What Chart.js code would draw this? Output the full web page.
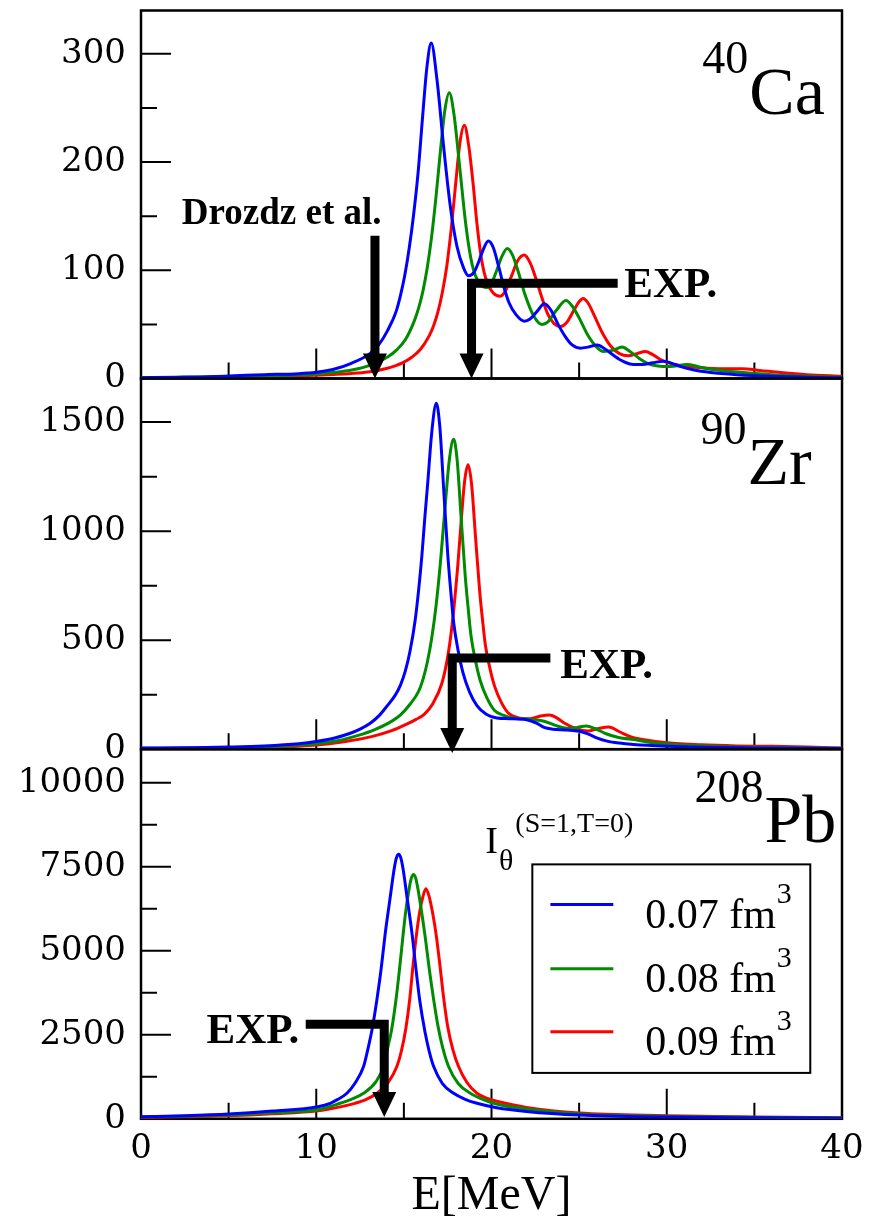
<!DOCTYPE html>
<html>
<head>
<meta charset="utf-8">
<title>I_theta (S=1,T=0)</title>
<script src="https://cdn.jsdelivr.net/npm/chart.js@4.4.1/dist/chart.umd.min.js"></script>
<style>
  body { margin: 0; background: #fff; }
  #wrap { position: relative; width: 876px; height: 1228px; }
  #wrap canvas { position: absolute; left: 0; top: 0; }
</style>
</head>
<body>
<div id="wrap">
  <canvas id="ca" width="876" height="1228"></canvas>
  <canvas id="zr" width="876" height="1228"></canvas>
  <canvas id="pb" width="876" height="1228"></canvas>
</div>
<script>
// series labels (density), one colour each
const densities = ['0.07 fm', '0.08 fm', '0.09 fm'];
const xTicks = [0, 10, 20, 30, 40];
const caTicks = [0, 100, 200, 300];
const zrTicks = [0, 500, 1000, 1500];
const pbTicks = [0, 2500, 5000, 7500, 10000];

// 40Ca
const caE07 = [0, 2, 3.4, 5, 7, 9, 10, 11, 12, 13.06, 13.56, 14.06, 14.56, 14.81, 15.06, 15.31, 15.56, 15.81, 16.06, 16.31, 16.56, 16.89, 17.27, 17.65, 18.03, 18.41, 18.68, 19.0, 19.25, 19.5, 19.82, 20.1, 20.4, 20.7, 21.0, 21.4, 21.87, 22.2, 22.6, 23.01, 23.4, 23.8, 24.2, 24.6, 25.07, 25.5, 26.04, 26.5, 27.0, 27.5, 28.09, 28.6, 29.2, 29.81, 30.3, 30.8, 31.5, 32.5, 34, 36, 38, 40];
const caI07 = [0.8, 1.2, 1.5, 2.3, 3.5, 4.5, 5.8, 8.5, 14, 23, 31, 44, 62, 77, 96, 121, 152, 190, 240, 287, 310, 276, 214, 159, 122, 102, 95, 98, 107, 118, 127, 121, 104, 85, 70, 59, 53, 55, 62, 69, 63, 50, 39, 31, 28, 29, 31, 27, 21, 16, 13, 13, 14.5, 16, 14, 11, 8, 5.5, 3.5, 2, 1.2, 0.6];
const caE08 = [0, 2, 5, 8, 10, 11, 12.09, 13.09, 14.09, 14.59, 15.09, 15.59, 15.84, 16.09, 16.34, 16.59, 16.84, 17.09, 17.34, 17.59, 17.85, 18.2, 18.55, 18.9, 19.3, 19.74, 20.0, 20.3, 20.6, 20.9, 21.2, 21.5, 21.9, 22.4, 22.88, 23.2, 23.7, 24.25, 24.6, 25.0, 25.5, 26.0, 26.38, 26.9, 27.45, 27.9, 28.4, 28.9, 29.5, 30.2, 31.16, 31.8, 32.5, 34, 36, 38, 40];
const caI08 = [0.6, 0.9, 1.7, 2.8, 4.2, 5.5, 8, 12.4, 20, 26.4, 36, 53, 65, 81, 103, 132, 169, 211, 248, 264, 245, 193, 140, 105, 88, 84, 88, 100, 113, 120, 114, 100, 78, 58, 50, 52, 63, 72, 67, 56, 40, 29, 25, 26, 29, 25, 19, 14, 11.5, 11, 13, 11, 8.5, 6, 3.5, 2, 1.2];
const caE09 = [0, 2, 5, 8, 10, 11, 12, 12.95, 13.95, 14.95, 15.45, 15.95, 16.45, 16.7, 16.95, 17.2, 17.45, 17.7, 17.95, 18.2, 18.45, 18.7, 18.95, 19.17, 19.45, 19.74, 20.1, 20.5, 20.8, 21.15, 21.5, 21.87, 22.2, 22.5, 22.85, 23.2, 23.55, 23.93, 24.3, 24.7, 25.0, 25.22, 25.5, 25.9, 26.3, 26.8, 27.3, 27.8, 28.3, 28.78, 29.2, 29.7, 30.2, 31, 31.9, 33, 34.3, 35.3, 36.5, 38, 40];
const caI09 = [0.5, 0.7, 1.3, 2.1, 3, 3.7, 4.6, 6, 9, 14.7, 19.6, 27, 39.6, 49, 62, 80, 104, 138, 179, 218, 234, 215, 180, 143, 108, 89, 79, 76, 81, 95, 109, 114, 107, 94, 76, 60, 51, 48, 52, 63, 71, 74, 70, 57, 43, 30, 23, 21, 23, 25, 22, 17, 14, 11.5, 10, 9, 9, 7.5, 5.5, 3.5, 2];

// 90Zr
const zrE07 = [0, 3, 5, 7, 9, 10, 11, 11.94, 12.5, 13.08, 13.6, 14.03, 14.5, 14.8, 15.08, 15.35, 15.65, 15.85, 16.03, 16.2, 16.35, 16.6, 16.85, 17.05, 17.27, 17.51, 17.68, 17.84, 18.1, 18.37, 18.75, 19.17, 19.7, 20.3, 21.0, 22.0, 22.6, 23.0, 23.5, 24.3, 25.0, 25.5, 26.0, 26.6, 27.3, 28.1, 30, 32, 35, 38, 40];
const zrI07 = [5, 7, 10, 15, 25, 35, 50, 73, 92, 119, 155, 197, 247, 293, 358, 449, 595, 736, 890, 1066, 1210, 1460, 1586, 1480, 1194, 886, 720, 581, 450, 351, 262, 200, 160, 143, 140, 135, 118, 100, 92, 88, 82, 70, 52, 37, 28, 22, 14, 9, 6, 4, 3];
const zrE08 = [0, 3, 5, 7, 9, 10, 11.3, 12.34, 13.34, 14.34, 14.84, 15.34, 15.84, 16.09, 16.34, 16.59, 16.84, 17.09, 17.34, 17.59, 17.84, 18.04, 18.26, 18.5, 18.67, 18.83, 19.09, 19.36, 19.74, 20.16, 20.7, 21.25, 22.0, 23.0, 23.8, 24.4, 24.9, 25.4, 25.9, 26.5, 27.2, 28.3, 29, 30, 32, 35, 38, 40];
const zrI08 = [4, 5, 7, 11, 18, 25, 40, 62, 90, 130, 160, 205, 265, 320, 400, 510, 660, 860, 1100, 1324, 1421, 1326, 1070, 795, 645, 520, 404, 314, 235, 179, 155, 143, 138, 128, 105, 95, 100, 106, 95, 72, 55, 42, 32, 24, 15, 9, 6, 4];
const zrE09 = [0, 3, 5, 7, 9, 10, 11.37, 12.3, 13.27, 14.3, 15.16, 15.7, 16.16, 16.66, 17.16, 17.46, 17.66, 17.86, 18.06, 18.26, 18.46, 18.66, 18.86, 19.08, 19.32, 19.49, 19.65, 19.91, 20.18, 20.56, 20.98, 21.5, 22.2, 22.8, 23.3, 23.7, 24.2, 24.8, 25.5, 26.1, 26.7, 27.3, 28.0, 28.7, 30, 32, 34, 36, 38, 40];
const zrI09 = [3, 4, 6, 9, 14, 19, 32, 44, 60, 85, 115, 137, 160, 210, 300, 405, 510, 650, 825, 1035, 1225, 1305, 1218, 983, 730, 592, 478, 371, 288, 215, 164, 145, 140, 152, 157, 145, 118, 95, 83, 95, 102, 80, 55, 44, 30, 20, 15, 13, 10, 5];

// 208Pb
const pbE07 = [0, 2.5, 5, 7.5, 10.1, 10.8, 11.2, 11.75, 12.2, 12.7, 12.95, 13.2, 13.46, 13.7, 13.94, 14.2, 14.45, 14.57, 14.7, 14.83, 14.95, 15.2, 15.46, 15.68, 15.9, 16.2, 16.45, 16.7, 17.2, 17.84, 18.5, 19.17, 20.3, 22, 25, 30, 35, 40];
const pbI07 = [60, 90, 140, 230, 360, 462, 570, 760, 1050, 1555, 2080, 2700, 3544, 4450, 5533, 6520, 7450, 7760, 7870, 7760, 7450, 6520, 5533, 4500, 3544, 2600, 2000, 1555, 1050, 760, 580, 462, 330, 220, 110, 50, 30, 20];
const pbE08 = [0, 2.5, 5, 7.5, 10.1, 11.37, 12.0, 12.7, 13.4, 13.84, 14.05, 14.3, 14.55, 14.75, 14.95, 15.1, 15.3, 15.43, 15.55, 15.67, 15.8, 16.0, 16.22, 16.45, 16.7, 16.95, 17.2, 17.55, 18.1, 18.79, 19.6, 20.3, 22, 25, 30, 35, 40];
const pbI08 = [50, 75, 110, 180, 270, 462, 580, 760, 1100, 1555, 2050, 2650, 3544, 4450, 5450, 6150, 6850, 7170, 7273, 7170, 6850, 6200, 5400, 4450, 3544, 2750, 2150, 1555, 1050, 760, 560, 440, 290, 140, 70, 40, 25];
const pbE09 = [0, 2.5, 5, 7.5, 10.1, 10.8, 11.5, 12.2, 12.8, 13.46, 14.1, 14.6, 14.85, 15.1, 15.33, 15.52, 15.71, 15.9, 16.08, 16.26, 16.45, 16.65, 16.85, 17.05, 17.27, 17.5, 17.8, 18.12, 18.6, 19.17, 19.8, 20.3, 22, 25, 30, 35, 40];
const pbI09 = [40, 60, 90, 150, 240, 300, 370, 460, 560, 760, 1080, 1555, 2000, 2650, 3544, 4550, 5450, 6150, 6600, 6846, 6600, 6100, 5450, 4600, 3600, 2750, 2050, 1555, 1080, 760, 600, 520, 340, 170, 90, 50, 30];

// look
const serif = 'Liberation Serif';
const tickFont = { family: 'DejaVu Serif', size: 34 };
const colors = ['#0000ff', 'rgb(0,139,0)', '#ff0000'];

function series(E, I) {
  return E.map((e, i) => ({ x: e, y: I[i] }));
}

function label(ctx, str, pt, font, align) {
  ctx.font = font;
  ctx.textAlign = align || 'left';
  ctx.textBaseline = 'alphabetic';
  ctx.fillStyle = '#000';
  ctx.fillText(str, pt[0], pt[1]);
  return ctx.measureText(str).width;
}

function arrowHead(ctx, x, yTip) {
  ctx.beginPath();
  ctx.moveTo(x - 12, yTip - 25);
  ctx.lineTo(x + 12, yTip - 25);
  ctx.lineTo(x, yTip);
  ctx.closePath();
  ctx.fill();
}

// bar + shaft + head, first point is the free end of the bar
function elbow(ctx, p0, p1, tip) {
  ctx.lineWidth = 9;
  ctx.lineJoin = 'miter';
  ctx.lineCap = 'butt';
  ctx.beginPath();
  if (p0) { ctx.moveTo(p0[0], p0[1]); ctx.lineTo(p1[0], p1[1]); }
  else ctx.moveTo(p1[0], p1[1]);
  ctx.lineTo(tip[0], tip[1] - 23);
  ctx.stroke();
  arrowHead(ctx, tip[0], tip[1]);
}

function nucleus(ctx, mass, sym, pt, ySym) {
  const w = label(ctx, mass, pt, '46px ' + serif);
  label(ctx, sym, [pt[0] + w + 1, ySym], '68px ' + serif);
}

// frame and inward ticks, under the curves
function framePlugin(major, minor) {
  return {
    id: 'frame',
    beforeDatasetsDraw(chart) {
      const { ctx, chartArea: a, scales: { x, y } } = chart;
      ctx.save();
      ctx.strokeStyle = '#000';
      ctx.lineWidth = 2;
      ctx.beginPath();
      for (let e = 5; e < 40; e += 5) {
        const px = x.getPixelForValue(e);
        ctx.moveTo(px, a.bottom);
        ctx.lineTo(px, a.bottom - (e % 10 ? 16 : 30));
      }
      for (let v = minor; v < y.max; v += minor) {
        const py = y.getPixelForValue(v);
        ctx.moveTo(a.left, py);
        ctx.lineTo(a.left + (v % major ? 16 : 30), py);
      }
      ctx.stroke();
      ctx.lineWidth = 2.5;
      ctx.strokeRect(a.left, a.top, a.right - a.left, a.bottom - a.top);
      ctx.restore();
    }
  };
}

function notesPlugin(draw) {
  return {
    id: 'notes',
    afterDatasetsDraw(chart) {
      const { ctx, scales: { x, y } } = chart;
      const P = (e, v) => [x.getPixelForValue(e), y.getPixelForValue(v)];
      ctx.save();
      ctx.fillStyle = '#000';
      ctx.strokeStyle = '#000';
      draw(ctx, P, chart);
      ctx.restore();
    }
  };
}

function noPad(s) {
  s.paddingTop = 0; s.paddingBottom = 0; s.paddingLeft = 0; s.paddingRight = 0;
}

function makePanel(id, o) {
  return new Chart(document.getElementById(id), {
    type: 'line',
    data: {
      datasets: o.sets.map((s, i) => ({
        label: densities[i],
        data: series(s[0], s[1]),
        borderColor: colors[i],
        borderWidth: 3,
        pointRadius: 0,
        cubicInterpolationMode: 'monotone',
        fill: false
      }))
    },
    options: {
      responsive: false,
      animation: false,
      events: [],
      layout: { padding: { top: o.top, bottom: o.bottom, left: 0, right: 34 } },
      plugins: { legend: { display: false }, tooltip: { enabled: false } },
      scales: {
        x: {
          type: 'linear', min: 0, max: 40,
          display: o.showX,
          grid: { display: false, drawTicks: false },
          border: { display: false },
          afterBuildTicks: s => { s.ticks = xTicks.map(v => ({ value: v })); },
          ticks: { color: '#000', font: tickFont, padding: 10, maxRotation: 0, autoSkip: false, callback: v => String(v) },
          title: { display: true, text: 'E[MeV]', color: '#000', font: { family: serif, size: 48 }, padding: { top: 0, bottom: 3 } },
          afterFit: s => { noPad(s); if (o.showX) s.height = 109.2; }
        },
        y: {
          min: 0, max: o.max,
          grid: { display: false, drawTicks: false },
          border: { display: false },
          ticks: { color: '#000', font: tickFont, padding: 15, autoSkip: false, callback: v => String(v) },
          afterBuildTicks: s => { s.ticks = o.ticks.map(v => ({ value: v })); },
          afterFit: s => { noPad(s); s.width = 141; }
        }
      }
    },
    plugins: [framePlugin(o.ticks[1], o.ticks[1] / 2), notesPlugin(o.notes)]
  });
}

makePanel('ca', {
  sets: [[caE07, caI07], [caE08, caI08], [caE09, caI09]],
  top: 10.5, bottom: 849.5, max: 340, ticks: caTicks, showX: false,
  notes: (ctx, P) => {
    label(ctx, 'Drozdz et al.', P(2.33, 142.7), 'bold 37px ' + serif);
    elbow(ctx, null, P(13.35, 132), P(13.35, 0));
    elbow(ctx, P(27.2, 88), P(18.86, 88), P(18.86, 0));
    label(ctx, 'EXP.', P(27.58, 75.3), 'bold 43px ' + serif);
    nucleus(ctx, '40', 'Ca', P(32.03, 282), P(0, 244.3)[1]);
  }
});

makePanel('zr', {
  sets: [[zrE07, zrI07], [zrE08, zrI08], [zrE09, zrI09]],
  top: 378.5, bottom: 478.8, max: 1700, ticks: zrTicks, showX: false,
  notes: (ctx, P) => {
    elbow(ctx, P(23.36, 418), P(17.76, 418), P(17.76, -17.5));
    label(ctx, 'EXP.', P(23.92, 328), 'bold 43px ' + serif);
    nucleus(ctx, '90', 'Zr', P(31.92, 1401), P(0, 1217)[1]);
  }
});

makePanel('pb', {
  sets: [[pbE07, pbI07], [pbE08, pbI08], [pbE09, pbI09]],
  top: 749.2, bottom: 0, max: 11000, ticks: pbTicks, showX: true,
  notes: (ctx, P, chart) => {
    elbow(ctx, P(9.4, 2813), P(13.88, 2813), P(13.88, 54));
    label(ctx, 'EXP.', P(9.03, 2261), 'bold 43px ' + serif, 'right');
    nucleus(ctx, '208', 'Pb', P(31.58, 9421), P(0, 8228)[1]);
    // I_theta^(S=1,T=0)
    const pI = P(19.65, 7900);
    const wI = label(ctx, 'I', pI, '38px ' + serif);
    label(ctx, 'θ', [pI[0] + wI + 1, P(0, 7400)[1]], '30px ' + serif);
    label(ctx, '(S=1,T=0)', P(21.36, 8526), '28px ' + serif);
    // legend box
    const b0 = P(22.33, 7572), b1 = P(38.19, 1366);
    ctx.lineWidth = 2;
    ctx.strokeRect(b0[0], b0[1], b1[0] - b0[0], b1[1] - b0[1]);
    const rowV = [6378, 4469, 2589];
    const textV = [5692, 3783, 1903];
    chart.data.datasets.forEach((ds, i) => {
      const l0 = P(23.36, rowV[i]), l1 = P(26.95, rowV[i]);
      ctx.strokeStyle = ds.borderColor;
      ctx.lineWidth = 3;
      ctx.beginPath();
      ctx.moveTo(l0[0], l0[1]);
      ctx.lineTo(l1[0], l1[1]);
      ctx.stroke();
      const t = P(28.77, textV[i]);
      const w = label(ctx, ds.label, t, '42px ' + serif);
      label(ctx, '3', [t[0] + w + 1, t[1] - 25], '30px ' + serif);
    });
  }
});
</script>
</body>
</html>
